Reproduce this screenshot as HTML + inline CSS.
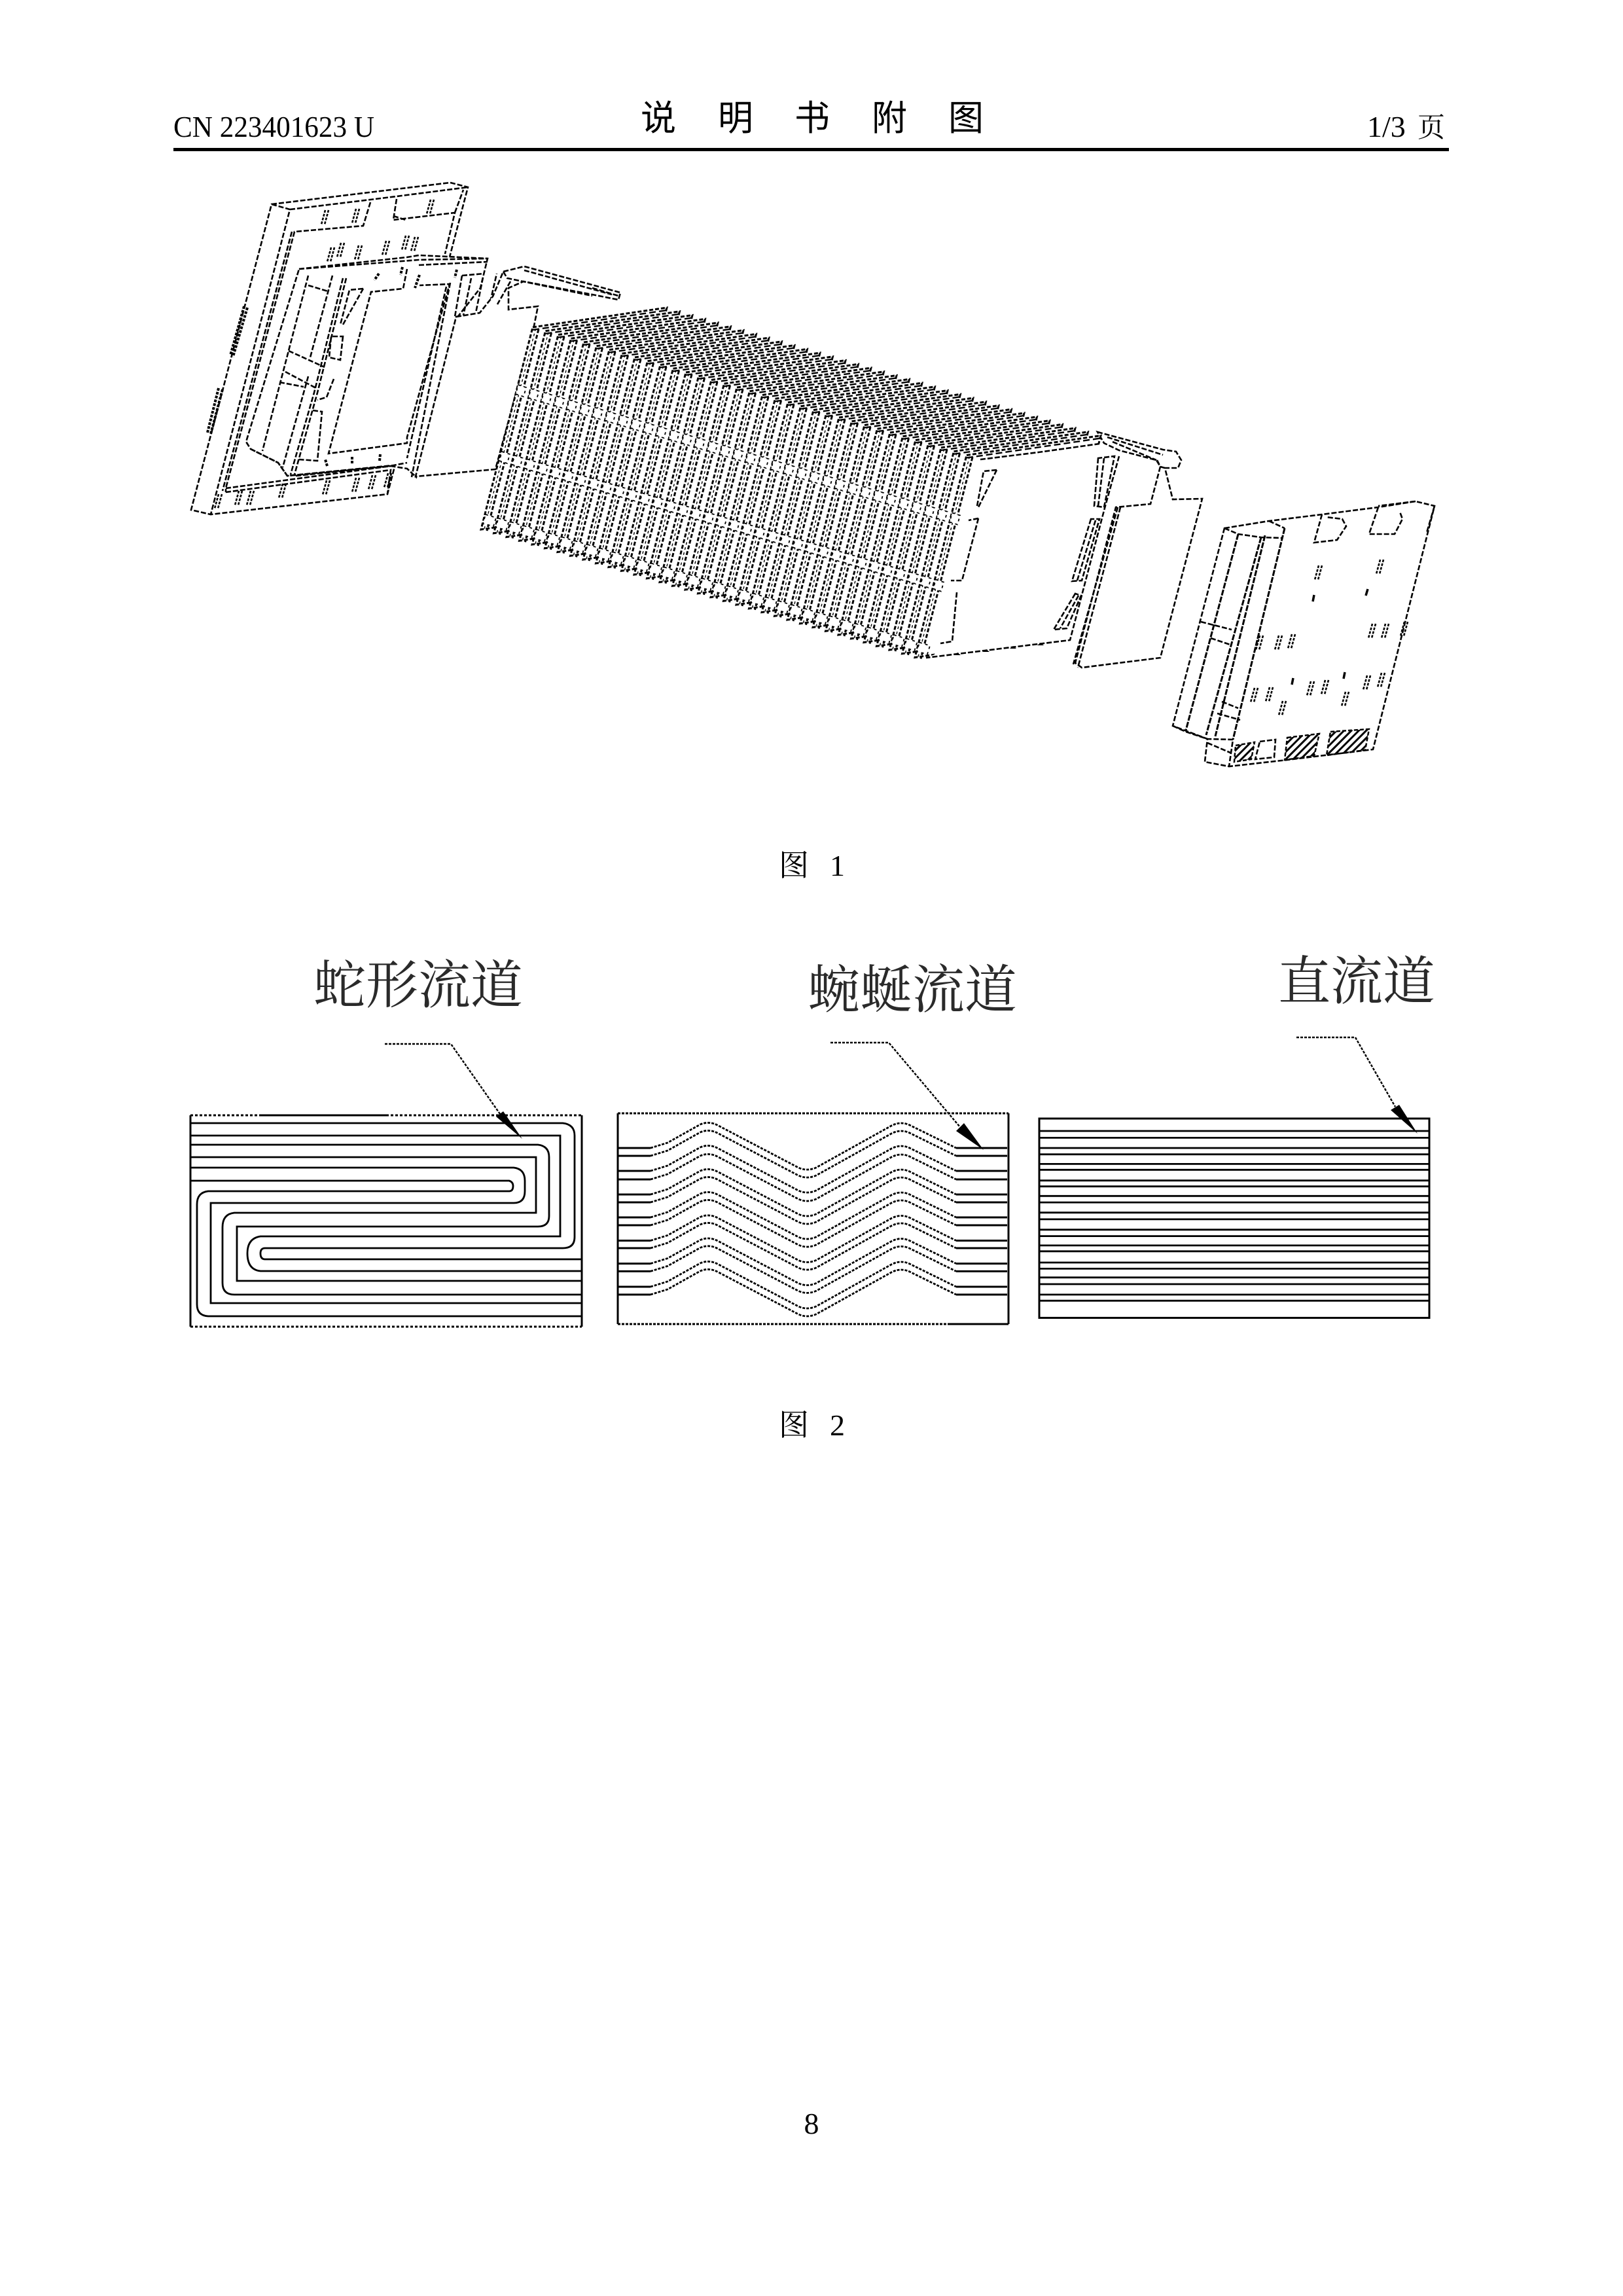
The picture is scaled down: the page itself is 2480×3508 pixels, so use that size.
<!DOCTYPE html>
<html lang="zh">
<head>
<meta charset="utf-8">
<title>说明书附图</title>
<style>
html,body{margin:0;padding:0;background:#fff}
svg{display:block;position:absolute;left:0;top:0}
.d{fill:none;stroke:#000;stroke-width:2.6;stroke-dasharray:8 3}
.f{fill:#fff;stroke:#000;stroke-width:2.6;stroke-dasharray:8 3}
.s{fill:none;stroke:#000;stroke-width:3}
.w{fill:none;stroke:#000;stroke-width:2.8;stroke-dasharray:4 2}
.h{font-family:"Liberation Serif","Noto Serif CJK SC",serif;fill:#000}
.l{font-family:"Liberation Serif","Noto Serif CJK SC",serif;font-size:80px;fill:#2a2a2a}
.t{font-family:"Liberation Sans","Noto Sans CJK SC",sans-serif;font-size:54px;fill:#000;text-anchor:middle}
</style>
</head>
<body>
<svg xmlns="http://www.w3.org/2000/svg" width="2480" height="3508" viewBox="0 0 2480 3508">
<defs>
<pattern id="hp" width="8" height="8" patternUnits="userSpaceOnUse" patternTransform="rotate(45)"><rect width="3" height="8" fill="#000"/></pattern>
<g id="fa">
<path d="M0,0 L205,-30 L126,279 L-79,309 Z" fill="#fff" stroke="#000" stroke-width="3" stroke-dasharray="6 3"/>
<path d="M0,4 L205,-26" fill="none" stroke="#000" stroke-width="2.4" stroke-dasharray="10 5"/>
<path d="M9,3 L-70,311" fill="none" stroke="#000" stroke-width="3" stroke-dasharray="6 3"/>
<path d="M4.500,2 L-74.500,310" fill="none" stroke="#000" stroke-width="1.4" stroke-dasharray="4 4"/>
<path d="M-22,88 L-10,92 L-14,106 L-26,102 Z M-47,190 L-35,194 L-39,208 L-51,204 Z M-72,286 L-56,291 L-60,304 L-76,300 Z" fill="#fff" stroke="#000" stroke-width="1.8" stroke-dasharray="4 5"/>
</g>
<g id="k"><path d="M3,-11 L-3,11 M8,-11 L2,11" fill="none" stroke="#000" stroke-width="2.6" stroke-dasharray="4 2"/></g>
<path id="wv" d="M994,0 L1020,-8 L1070,-36 Q1084,-42 1098,-34 L1220,30 Q1233,36 1247,30 L1362,-34 Q1377,-42 1392,-34 L1461,0" class="w"/>
<path id="wh" d="M945,0 H994 M1461,0 H1539" class="s"/>
</defs>

<!-- header -->
<text class="h" x="265" y="209" font-size="46" textLength="307" lengthAdjust="spacingAndGlyphs">CN 223401623 U</text>
<text class="t" x="1006" y="199">说</text>
<text class="t" x="1124" y="199">明</text>
<text class="t" x="1241" y="199">书</text>
<text class="t" x="1359" y="199">附</text>
<text class="t" x="1476" y="199">图</text>
<text class="h" x="2089" y="209" font-size="46">1/3</text>
<text class="h" x="2166" y="209" font-size="42">页</text>
<rect x="265" y="226" width="1949" height="5" fill="#000"/>

<!-- left end plate -->
<g>
<path class="f" d="M415,312 L688,279 L715,286 L592,755 L322,786 L292,779 Z"/>
<path class="d" d="M415,312 L443,320 L322,786 M443,320 L566,305 L606,300 L715,286"/>
<path class="d" d="M566,309 L555,345 L450,354 L345,746 L345,752 M446,354 L340,750"/>
<path class="d" d="M606,304 L601,336 L695,325 L680,388 M695,325 L708,290 M601,330 L620,336"/>
<path class="d" d="M345,746 L597,712 M345,752 L597,718 L592,755"/>
<path class="d" d="M373,468 L352,543 M378,470 L356,545 M334,593 L317,661 M340,595 L322,663" style="stroke-width:4;stroke-dasharray:4 2"/>
<use href="#k" x="494" y="332"/><use href="#k" x="541" y="330"/><use href="#k" x="655" y="316"/>
<use href="#k" x="503" y="389"/><use href="#k" x="518" y="382"/><use href="#k" x="545" y="386"/><use href="#k" x="587" y="379"/><use href="#k" x="617" y="371"/><use href="#k" x="631" y="373"/>
<use href="#k" x="496" y="745"/><use href="#k" x="541" y="741"/><use href="#k" x="566" y="737"/><use href="#k" x="590" y="734"/><use href="#k" x="362" y="761"/><use href="#k" x="380" y="761"/><use href="#k" x="331" y="766"/><use href="#k" x="429" y="750"/>
</g>

<!-- left frame insert -->
<g>
<path class="f" d="M457,411 L622,393 L640,390 L745,395 L734,440 L697,487 L636,729 L622,716 L597,712 L439,727 L425,707 L383,686 L376,675 Z"/>
<path class="f" d="M622,411 L616,441 L567,446 L502,693 L622,677 L622,668 L687,434 L641,436"/>
<path class="d" d="M457,411 L640,397 L745,395 M640,405 L745,400 M688,432 L629,729 M697,487 L636,729 M682,438 L622,700"/>
<path class="d" d="M471,421 L401,689 M471,436 L501,445 M508,421 L474,546 M441,536 L496,561 M436,568 L483,593 M427,584 L464,591"/>
<path class="d" d="M471,575 L432,714 M529,425 L485,600 L450,725 M524,425 L480,600 L444,725"/>
<path class="d" d="M555,441 L534,443 L520,496 M555,441 L524,496 M524,514 L520,550 L503,546 L506,514 Z"/>
<path class="d" d="M510,579 L499,607 L485,611 M478,627 L492,629 L485,704 L457,702"/>
<path class="d" d="M383,686 L425,707 L439,727 L601,711 L622,707 M452,727 L597,712"/>
<path class="d" d="M500,712 L497,702 M538,708 L538,698 M580,704 L581,694 M579,418 L572,428 M641,420 L634,440 M698,412 L695,424 M615,408 L612,420" style="stroke-width:4;stroke-dasharray:4 2"/>
<path class="d" d="M706,421 L695,484 L745,479 L759,418 M720,425 L708,482 M738,424 L727,478 M706,421 L740,418"/>
</g>

<!-- left gasket -->
<g>
<path class="f" d="M697,484 L733,478 L753,453 L769,415 L801,407 L948,447 L945,458 L905,450 L800,430 L777,440 L777,473 L822,468 L815,503 L757,717 L635,728 Z"/>
<path class="d" d="M769,415 L775,425 L905,452 M801,413 L935,450 M905,440 L945,452 M780,430 L760,465"/>
</g>

<!-- right gasket and band (behind face) -->
<g>
<path class="f" d="M1677,660 L1777,687 L1797,690 L1805,703 L1800,715 L1780,715 L1792,763 L1837,762 L1773,1005 L1653,1020 L1643,1013 L1705,775 L1758,770 L1773,713 L1767,703 L1710,688 L1687,677 Z"/>
<path class="d" d="M1700,675 L1767,703 M1780,715 L1773,713 L1768,703 M1712,775 L1647,1020 M1708,775 L1640,1015 M1692,668 L1777,695"/>
</g>

<!-- fin stack -->
<g>
<use href="#fa" x="814" y="500"/><use href="#fa" x="833.5" y="505.75"/><use href="#fa" x="853" y="511.5"/><use href="#fa" x="872.5" y="517.25"/><use href="#fa" x="892" y="523"/><use href="#fa" x="911.5" y="528.75"/><use href="#fa" x="931" y="534.5"/><use href="#fa" x="950.5" y="540.25"/><use href="#fa" x="970" y="546"/><use href="#fa" x="989.5" y="551.75"/><use href="#fa" x="1009" y="557.5"/><use href="#fa" x="1028.5" y="563.25"/>
<use href="#fa" x="1048" y="569"/><use href="#fa" x="1067.5" y="574.75"/><use href="#fa" x="1087" y="580.5"/><use href="#fa" x="1106.5" y="586.25"/><use href="#fa" x="1126" y="592"/><use href="#fa" x="1145.5" y="597.75"/><use href="#fa" x="1165" y="603.5"/><use href="#fa" x="1184.5" y="609.25"/><use href="#fa" x="1204" y="615"/><use href="#fa" x="1223.5" y="620.75"/><use href="#fa" x="1243" y="626.5"/><use href="#fa" x="1262.5" y="632.25"/>
<use href="#fa" x="1282" y="638"/><use href="#fa" x="1301.5" y="643.75"/><use href="#fa" x="1321" y="649.5"/><use href="#fa" x="1340.5" y="655.25"/><use href="#fa" x="1360" y="661"/><use href="#fa" x="1379.5" y="666.75"/><use href="#fa" x="1399" y="672.5"/><use href="#fa" x="1418.5" y="678.25"/><use href="#fa" x="1438" y="684"/><use href="#fa" x="1457.5" y="689.75"/><use href="#fa" x="1477" y="695.5"/>
<path d="M1506,703 L1587,692 L1680,678 L1710,697 L1657,893 L1635,978 L1415,1005 L1428,1000 Z" fill="#fff" stroke="none"/>
<path class="d" d="M1498,702 L1587,691 L1680,678 M1710,697 L1687,780 L1635,978 L1415,1005"/>
<path class="d" d="M1523,718 L1503,720 L1493,773 M1523,718 L1495,775 M1495,792 L1480,795 M1495,792 L1470,887 L1453,887 M1462,905 L1455,980 L1437,983"/>
<path d="M1463,997 l-5,4 h10 Z M1507,992 l-5,4 h10 Z M1548,987 l-5,4 h10 Z M1590,982 l-5,4 h10 Z" fill="#000"/>
<path class="f" d="M1678,700 L1672,773 L1687,775 L1703,697 Z M1667,793 L1638,888 L1653,887 L1680,793 Z M1643,907 L1610,962 L1630,960 L1652,910 Z"/>
<path class="d" d="M1687,700 L1678,773 M1674,795 L1646,887 M1648,910 L1620,960"/>
</g>

<!-- right end plate -->
<g>
<path class="f" d="M1871,807 L1939,796 L2020,786 L2106,775 L2163,766 L2192,773 L2098,1145 L1967,1161 L1878,1171 L1841,1164 L1845,1129 L1792,1109 Z"/>
<path class="s" d="M1892,816 L1812,1116 M1927,821 L1843,1123 M1933,818 L1857,1125 M1963,807 L1884,1130" stroke-dasharray="9 2"/>
<path class="d" d="M1871,807 L1892,816 L1927,821 L1960,822 M1939,796 L1963,807 M1792,1109 L1812,1118 L1845,1129 L1884,1130 L1878,1171 M1845,1135 L1880,1150"/>
<path class="d" d="M1835,950 L1882,962 M1850,975 L1880,985 M1867,1072 L1892,1082 M1860,1090 L1895,1100"/>
<path class="f" d="M2020,786 L2008,829 L2043,825 L2057,804 L2051,793 L2026,790 M2106,775 L2092,816 L2131,816 L2143,793 L2139,782"/>
<path class="d" d="M2163,766 L2106,773 M2192,773 L2180,814"/>
<g fill="url(#hp)" stroke="#000" stroke-width="2.5" stroke-dasharray="6 3">
<path d="M1888,1139 L1917,1134 L1912,1160 L1886,1164 Z"/>
<path d="M1967,1127 L2016,1121 L2008,1155 L1963,1161 Z"/>
<path d="M2033,1118 L2092,1114 L2086,1146 L2027,1154 Z"/>
</g>
<path class="d" d="M1925,1133 L1949,1130 L1947,1157 L1918,1160 Z"/>
<use href="#k" x="2012" y="875"/><use href="#k" x="2106" y="866"/><use href="#k" x="2094" y="964"/><use href="#k" x="2114" y="964"/><use href="#k" x="2143" y="961"/><use href="#k" x="1951" y="982"/><use href="#k" x="1971" y="980"/><use href="#k" x="1922" y="982"/><use href="#k" x="2000" y="1052"/><use href="#k" x="2022" y="1050"/><use href="#k" x="2086" y="1043"/><use href="#k" x="2108" y="1039"/><use href="#k" x="2053" y="1068"/><use href="#k" x="1914" y="1062"/><use href="#k" x="1937" y="1061"/><use href="#k" x="1957" y="1082"/>
<path d="M2090,900 L2087,910 M2008,909 L2006,919 M1976,1036 L1974,1046 M2055,1027 L2053,1037" stroke="#000" stroke-width="3.5" fill="none"/>
</g>

<text class="h" x="1190" y="1338" font-size="46">图</text>
<text class="h" x="1268" y="1338" font-size="46">1</text>

<!-- labels -->
<text class="l" x="479" y="1533">蛇形流道</text>
<text class="l" x="1234" y="1540">蜿蜒流道</text>
<text class="l" x="1953" y="1527">直流道</text>

<!-- leaders -->
<g fill="none" stroke="#000" stroke-width="2.4" stroke-dasharray="4 2">
<path d="M588,1595 H689 L764,1702"/>
<path d="M1269,1593 H1358 L1467,1722"/>
<path d="M1981,1585 H2071 L2132,1691"/>
</g>
<path d="M758,1706 L769,1698 L798,1740 Z" fill="#000"/>
<path d="M1461,1728 L1473,1716 L1503,1757 Z" fill="#000"/>
<path d="M2125,1696 L2138,1688 L2166,1732 Z" fill="#000"/>

<!-- panel 1 serpentine -->
<g>
<path d="M291,1704 V2027 M889,1704 V2027" fill="none" stroke="#000" stroke-width="3"/>
<path d="M400,1704 H590" fill="none" stroke="#000" stroke-width="3"/>
<path d="M291,1704 H400 M590,1704 H889 M291,2027 H889" fill="none" stroke="#000" stroke-width="3" stroke-dasharray="4 3"/>
</g>
<g fill="none" stroke="#000" stroke-width="2.8">
<path d="M291,1716 H860 Q878,1718 878,1735 V1890 Q878,1907 860,1907 H405 Q398,1907 398,1915 Q398,1924 405,1924 H889"/>
<path d="M291,1735 H856 V1889 H398 Q378,1892 378,1915 Q378,1940 398,1942 H889"/>
<path d="M291,1749 H822 Q839,1751 839,1768 V1858 Q839,1874 822,1874 H362 V1957 H889"/>
<path d="M291,1768 H819 V1853 H358 Q340,1855 340,1875 V1960 Q340,1978 358,1978 H889"/>
<path d="M291,1784 H785 Q802,1786 802,1804 V1820 Q802,1838 785,1838 H322 V1991 H889"/>
<path d="M291,1804 H778 Q784,1806 784,1812 Q784,1820 778,1820 H318 Q301,1822 301,1840 V1993 Q301,2010 318,2011 H889"/>
</g>

<!-- panel 2 meander -->
<g fill="none" stroke="#000" stroke-width="3">
<path d="M944,1701 V2023 M1541,1701 V2023"/>
<path d="M944,1701 H1541 M944,2023 H1450" stroke-dasharray="4 2"/>
<path d="M1450,2023 H1541"/>
</g>
<use href="#wv" y="1754"/><use href="#wh" y="1754"/>
<use href="#wv" y="1766"/><use href="#wh" y="1766"/>
<use href="#wv" y="1789"/><use href="#wh" y="1789"/>
<use href="#wv" y="1802"/><use href="#wh" y="1802"/>
<use href="#wv" y="1825"/><use href="#wh" y="1825"/>
<use href="#wv" y="1837"/><use href="#wh" y="1837"/>
<use href="#wv" y="1860"/><use href="#wh" y="1860"/>
<use href="#wv" y="1872"/><use href="#wh" y="1872"/>
<use href="#wv" y="1895.5"/><use href="#wh" y="1895.5"/>
<use href="#wv" y="1907"/><use href="#wh" y="1907"/>
<use href="#wv" y="1930.6"/><use href="#wh" y="1930.6"/>
<use href="#wv" y="1942.4"/><use href="#wh" y="1942.4"/>
<use href="#wv" y="1966"/><use href="#wh" y="1966"/>
<use href="#wv" y="1978"/><use href="#wh" y="1978"/>

<!-- panel 3 straight -->
<rect x="1588" y="1709" width="596" height="304.5" fill="none" stroke="#000" stroke-width="3"/>
<path fill="none" stroke="#000" stroke-width="2.8" d="M1588,1728 H2184 M1588,1738.4 H2184 M1588,1754 H2184 M1588,1763.7 H2184 M1588,1778.4 H2184 M1588,1787.3 H2184 M1588,1803.7 H2184 M1588,1812.7 H2184 M1588,1827.3 H2184 M1588,1837.1 H2184 M1588,1852.7 H2184 M1588,1862.9 H2184 M1588,1878.8 H2184 M1588,1888.6 H2184 M1588,1902.9 H2184 M1588,1911.8 H2184 M1588,1929 H2184 M1588,1938.4 H2184 M1588,1951.8 H2184 M1588,1962 H2184 M1588,1978 H2184 M1588,1987.3 H2184"/>

<text class="h" x="1190" y="2193" font-size="46">图</text>
<text class="h" x="1268" y="2193" font-size="46">2</text>
<text class="h" x="1240" y="3260" font-size="46" text-anchor="middle">8</text>
</svg>
</body>
</html>
